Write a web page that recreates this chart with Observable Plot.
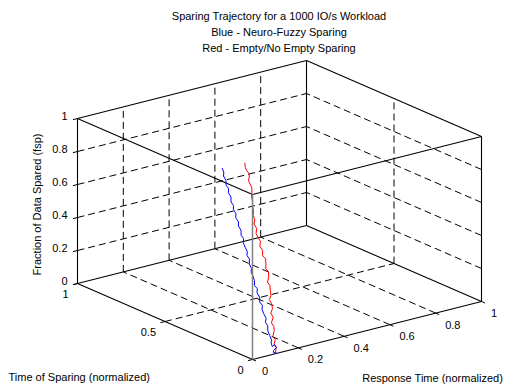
<!DOCTYPE html>
<html>
<head>
<meta charset="utf-8">
<script src="https://cdn.jsdelivr.net/npm/d3@7"></script>
<script src="https://cdn.jsdelivr.net/npm/@observablehq/plot@0.6"></script>
<style>
  html, body { margin: 0; padding: 0; background: #fff; }
  #chart svg { display: block; }
</style>
</head>
<body>
<div id="chart"></div>
<script>
// ---- Tick values and labels ----
const rtTicks = [0, 0.2, 0.4, 0.6, 0.8, 1];
const rtLabels = ["0", "0.2", "0.4", "0.6", "0.8", "1"];
const tosTicks = [0, 0.5, 1];
const tosLabels = ["0", "0.5", "1"];
const fspTicks = [0, 0.2, 0.4, 0.6, 0.8, 1];
const fspLabels = ["0", "0.2", "0.4", "0.6", "0.8", "1"];

const titleLines = [
  "Sparing Trajectory for a 1000 IO/s Workload",
  "Blue - Neuro-Fuzzy Sparing",
  "Red - Empty/No Empty Sparing"
];
const rtTitle = "Response Time (normalized)";
const tosTitle = "Time of Sparing (normalized)";
const fspTitle = "Fraction of Data Spared (fsp)";

// ---- Blue: Neuro-Fuzzy sparing trajectory ----
const blueRT = [0.105,0.093,0.096,0.111,0.106,0.095,0.094,0.099,0.096,0.093,0.099,0.093,0.100,0.095,0.093,0.099,0.091,0.096,0.090,0.096,0.088,0.093,0.092,0.088,0.094,0.090,0.096,0.089,0.095,0.091,0.088,0.094,0.087,0.092,0.086,0.091,0.084,0.089,0.083,0.088,0.082,0.087,0.081,0.086,0.080,0.084,0.079,0.084,0.082];
const blueTOS = [0.001,0.002,0.005,0.008,0.013,0.011,0.017,0.020,0.028,0.035,0.042,0.048,0.053,0.060,0.067,0.073,0.078,0.085,0.092,0.098,0.104,0.111,0.118,0.123,0.129,0.136,0.143,0.148,0.154,0.161,0.168,0.174,0.179,0.186,0.193,0.199,0.206,0.211,0.218,0.224,0.230,0.237,0.244,0.249,0.255,0.262,0.269,0.274,0.280];
const blueFSP = [0.002,0.008,0.019,0.030,0.047,0.040,0.060,0.073,0.100,0.126,0.150,0.170,0.190,0.216,0.240,0.260,0.280,0.305,0.330,0.350,0.370,0.396,0.420,0.440,0.460,0.485,0.510,0.530,0.550,0.574,0.600,0.620,0.640,0.665,0.690,0.710,0.735,0.755,0.780,0.800,0.820,0.845,0.870,0.890,0.910,0.935,0.960,0.980,1.000];

// ---- Red: Empty/No Empty sparing trajectory ----
const redRT = [0.102,0.110,0.105,0.115,0.108,0.120,0.123,0.117,0.130,0.125,0.136,0.139,0.133,0.145,0.147,0.151,0.145,0.155,0.160,0.152,0.158,0.162,0.153,0.159,0.152,0.160,0.154,0.150,0.158,0.152,0.160,0.158,0.165,0.165,0.172,0.171,0.178,0.182,0.179,0.176,0.183,0.186,0.180,0.177,0.180];
const redTOS = [0.002,0.008,0.014,0.020,0.025,0.033,0.039,0.045,0.052,0.059,0.064,0.072,0.078,0.084,0.091,0.098,0.104,0.110,0.118,0.123,0.130,0.137,0.143,0.150,0.157,0.164,0.170,0.176,0.183,0.190,0.196,0.203,0.210,0.216,0.224,0.229,0.236,0.242,0.248,0.253,0.258,0.263,0.268,0.273,0.279];
const redFSP = [0.007,0.030,0.051,0.070,0.090,0.119,0.140,0.160,0.187,0.210,0.230,0.256,0.280,0.300,0.325,0.350,0.370,0.394,0.420,0.440,0.465,0.490,0.510,0.536,0.560,0.585,0.608,0.630,0.655,0.680,0.700,0.725,0.749,0.770,0.800,0.817,0.843,0.865,0.887,0.905,0.922,0.940,0.958,0.975,0.998];

// ---- 3D -> 2D projection (fixed oblique view of the unit cube) ----
const W = 511, H = 389;
const view = { ox: 252, oy: 359, rtx: 229, rty: -58, tosx: -175, tosy: -76, zy: -165 };
const px = (rt, tos, z) => view.ox + rt * view.rtx + tos * view.tosx;
const py = (rt, tos, z) => view.oy + rt * view.rty + tos * view.tosy + z * view.zy;

const seg = (a, b) => ({ a, b });
const boxEdges = [
  seg([0,0,0],[1,0,0]), seg([0,0,0],[0,1,0]), seg([0,1,0],[1,1,0]), seg([1,0,0],[1,1,0]),
  seg([0,0,1],[1,0,1]), seg([0,0,1],[0,1,1]), seg([0,1,1],[1,1,1]), seg([1,0,1],[1,1,1]),
  seg([0,1,0],[0,1,1]), seg([1,1,0],[1,1,1]), seg([1,0,0],[1,0,1])
];
const frontEdge = [seg([0,0,0],[0,0,1])];

const grid = [];
rtTicks.slice(1, -1).forEach(r => {
  grid.push(seg([r,0,0],[r,1,0]));   // floor
  grid.push(seg([r,1,0],[r,1,1]));   // back wall (tos = 1)
});
fspTicks.slice(1, -1).forEach(z => {
  grid.push(seg([0,1,z],[1,1,z]));   // back wall (tos = 1)
  grid.push(seg([1,0,z],[1,1,z]));   // side wall (rt = 1)
});
tosTicks.slice(1, -1).forEach(t => {
  grid.push(seg([0,t,0],[1,t,0]));   // floor
  grid.push(seg([1,t,0],[1,t,1]));   // side wall (rt = 1)
});

const tickLen = 0.02;
const ticks = [];
fspTicks.forEach(z => ticks.push(seg([0,1,z],[-tickLen,1,z])));
tosTicks.forEach(t => ticks.push(seg([0,t,0],[-tickLen,t,0])));
rtTicks.forEach(r => ticks.push(seg([r,0,0],[r,-tickLen,0])));

const linkOpts = {
  x1: d => px(...d.a), y1: d => py(...d.a),
  x2: d => px(...d.b), y2: d => py(...d.b)
};

const blue = blueRT.map((r, i) => ({ rt: r, tos: blueTOS[i], fsp: blueFSP[i] }));
const red = redRT.map((r, i) => ({ rt: r, tos: redTOS[i], fsp: redFSP[i] }));
const lineOpts = { x: d => px(d.rt, d.tos, d.fsp), y: d => py(d.rt, d.tos, d.fsp) };

const fspLab = fspTicks.map((v, i) => ({ v, s: fspLabels[i] }));
const tosLab = tosTicks.map((v, i) => ({ v, s: tosLabels[i] }));
const rtLab = rtTicks.map((v, i) => ({ v, s: rtLabels[i] }));
const titles = titleLines.map((s, i) => ({ s, i }));

const font = "'Liberation Sans', Arial, Helvetica, sans-serif";

const chart = Plot.plot({
  width: W, height: H,
  margin: 0,
  style: { fontFamily: font, fontSize: "11px", background: "#fff", color: "#000" },
  x: { domain: [0, W], range: [0, W], axis: null },
  y: { domain: [0, H], range: [0, H], axis: null },
  marks: [
    Plot.link(grid, { ...linkOpts, stroke: "#000", strokeWidth: 1, strokeDasharray: "7,4" }),
    Plot.link(boxEdges, { ...linkOpts, stroke: "#000", strokeWidth: 1.1 }),
    Plot.link(ticks, { ...linkOpts, stroke: "#000", strokeWidth: 1 }),
    Plot.line(red, { ...lineOpts, stroke: "#ff0000", strokeWidth: 1 }),
    Plot.line(blue, { ...lineOpts, stroke: "#0000ff", strokeWidth: 1 }),
    Plot.link(frontEdge, { ...linkOpts, stroke: "#808080", strokeWidth: 1.5 }),
    // tick labels
    Plot.text(fspLab, { x: d => px(0, 1, d.v) - 10, y: d => py(0, 1, d.v) - 2, text: d => d.s, textAnchor: "end", fontSize: 11, fill: "#000" }),
    Plot.text(tosLab, { x: d => px(0, d.v, 0) - 9, y: d => py(0, d.v, 0) + 11, text: d => d.s, textAnchor: "end", fontSize: 11, fill: "#000" }),
    Plot.text(rtLab, { x: d => px(d.v, 0, 0) + 9.5, y: d => py(d.v, 0, 0) + 12, text: d => d.s, textAnchor: "start", fontSize: 11, fill: "#000" }),
    // axis titles
    Plot.text([fspTitle], { x: 37, y: 204, text: d => d, rotate: -90, fontSize: 11, fill: "#000" }),
    Plot.text([tosTitle], { x: 8, y: 377, text: d => d, textAnchor: "start", fontSize: 11, fill: "#000" }),
    Plot.text([rtTitle], { x: 432, y: 378, text: d => d, textAnchor: "middle", fontSize: 11, fill: "#000" }),
    // title
    Plot.text(titles, { x: 278.5, y: d => 16 + d.i * 15.8, text: d => d.s, textAnchor: "middle", fontSize: 11, fill: "#000" })
  ]
});
document.getElementById("chart").appendChild(chart);
</script>
</body>
</html>
